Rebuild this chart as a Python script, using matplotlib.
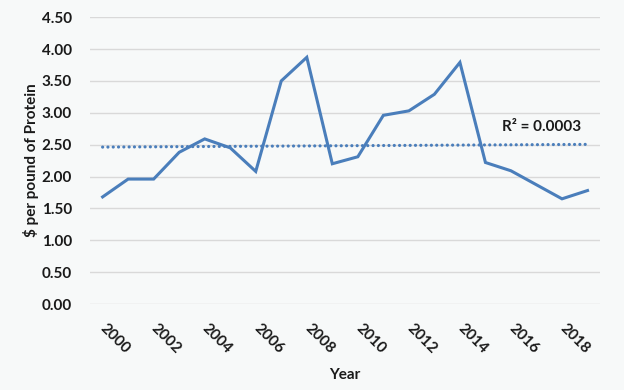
import numpy as np
import matplotlib
matplotlib.use('Agg')
import matplotlib.pyplot as plt

years = list(range(2000, 2020))
price = [1.68, 1.96, 1.96, 2.38, 2.59, 2.45, 2.08, 3.50, 3.87, 2.20,
         2.31, 2.96, 3.03, 3.29, 3.79, 2.22, 2.09, 1.87, 1.65, 1.78]
tick_years = list(range(2000, 2020, 2))
yticks = [0.0, 0.5, 1.0, 1.5, 2.0, 2.5, 3.0, 3.5, 4.0, 4.5]

plt.rcParams['font.family'] = ['Lato', 'DejaVu Sans']
bg = '#f7f9f9'
blue = '#4a7ebb'
txt = '#1a1a1a'
fs = 11

fig = plt.figure(figsize=(6.24, 3.9), dpi=100, facecolor=bg)
ax = fig.add_axes([0.144, 0.2205, 0.818, 0.7355], facecolor=bg)

x = np.arange(len(years))
ax.plot(x, price, color=blue, lw=2.2, solid_joinstyle='miter')

# linear trendline
coef = np.polyfit(x, price, 1)
trend = np.polyval(coef, x)
ax.plot(x, trend, color=blue, lw=2.3, linestyle=(0, (0.01, 1.65)), dash_capstyle='round')
ax.text(17.19, 2.774, 'R² = 0.0003', fontsize=fs, fontweight='bold', color=txt, ha='center', va='center')

ax.set_xlim(-0.5, len(years) - 0.5)
ax.set_ylim(0, 4.5)
ax.set_yticks(yticks)
ax.set_yticklabels(['%.2f' % v for v in yticks], fontsize=fs, fontweight='bold', color=txt)
ax.set_xticks([years.index(y) for y in tick_years])
ax.set_xticklabels([str(y) for y in tick_years], rotation=-45, ha='left', va='center',
                   rotation_mode='anchor', fontsize=fs, fontweight='bold', color=txt)
ax.tick_params(axis='both', length=0)
ax.tick_params(axis='x', pad=16)
ax.tick_params(axis='y', pad=13)
ax.grid(axis='y', color='#d9d9d9', lw=1)
ax.set_axisbelow(True)
for s in ax.spines.values():
    s.set_visible(False)

ax.set_ylabel('$ per pound of Protein', fontsize=fs, fontweight='bold', color=txt, labelpad=2)
ax.set_xlabel('Year', fontsize=fs, fontweight='bold', color=txt, labelpad=8)

fig.savefig('out.png', dpi=100, facecolor=bg)
